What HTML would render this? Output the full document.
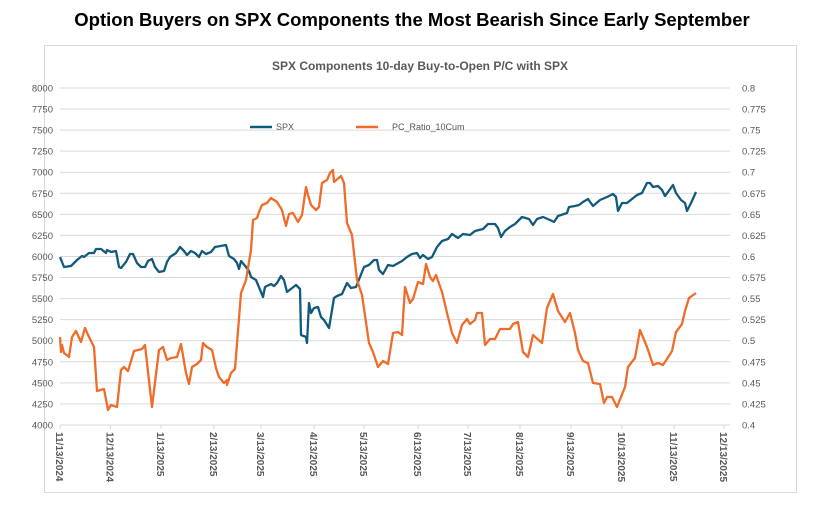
<!DOCTYPE html>
<html><head><meta charset="utf-8"><style>
body{margin:0;background:#fff;width:824px;height:513px;overflow:hidden;font-family:"Liberation Sans",sans-serif}
</style></head><body>
<svg width="824" height="513" xmlns="http://www.w3.org/2000/svg" font-family="Liberation Sans, sans-serif">
<text x="412" y="26" text-anchor="middle" font-size="18.5" font-weight="bold" fill="#000">Option Buyers on SPX Components the Most Bearish Since Early September</text>
<rect x="44.5" y="45.5" width="752" height="447" fill="#fff" stroke="#d9d9d9"/>
<text x="420" y="70" text-anchor="middle" font-size="12" font-weight="bold" fill="#595959">SPX Components 10-day Buy-to-Open P/C with SPX</text>
<g id="grid" stroke="#d9d9d9" stroke-width="1"></g>
<g id="yl" font-size="9.5" fill="#595959"></g>
<g id="xl" font-size="10" font-weight="bold" fill="#595959"></g>
<line x1="250" y1="127" x2="272" y2="127" stroke="#125a7c" stroke-width="2.5"/>
<text x="276" y="130" font-size="9" fill="#595959">SPX</text>
<line x1="356" y1="127" x2="378" y2="127" stroke="#ef6c2a" stroke-width="2.5"/>
<text x="392" y="130" font-size="9" fill="#595959">PC_Ratio_10Cum</text>
<polyline fill="none" stroke="#125a7c" stroke-width="2.3" stroke-linejoin="round" points="60,257 64,267 71,266 77,260 82,256 84,257 89,253 94,253 96,249 101,249 106,253 107,250 111,252 116,251 119,267 121,268 126,262 130,254 133,254 137,263 141,267 145,267 148,261 152,259 155,267 159,272 164,271 167,262 170,257 176,253 180,247 184,251 187,255 191,251 195,253 199,257 202,251 206,254 211,252 215,247 226,245 229,256 234,259 237,263 239,269 241,261 246,267 249,271 251,277 256,280 261,292 263,297 265,287 271,284 274,286 277,283 281,276 284,280 287,292 296,285 300,289 301,335 306,337 307,343 309,303 311,313 314,308 318,307 321,317 324,320 329,328 334,298 337,296 342,294 347,283 351,288 356,287 364,267 369,265 374,260 377,260 379,270 383,274 388,265 393,266 402,261 407,257 412,254 417,253 420,258 423,255 428,259 432,257 437,247 442,241 448,239 452,234 458,238 463,234 470,235 475,231 483,229 488,224 495,224 498,228 501,237 505,231 510,227 515,224 522,217 529,219 533,225 537,219 543,217 550,220 554,222 558,216 567,213 569,207 575,206 579,205 583,202 588,199 593,206 600,200 607,197 613,194 616,197 618,211 622,203 627,203 632,199 637,195 642,193 647,183 650,183 653,187 658,186 662,190 665,196 668,192 673,185 676,193 681,200 685,203 687,211 691,203 696,192"/>
<polyline fill="none" stroke="#ef6c2a" stroke-width="2.3" stroke-linejoin="round" points="60,337 61,352 62,345 64,353 69,357 72,337 76,331 81,342 85,328 89,337 94,347 97,391 104,389 108,410 111,405 117,407 121,370 124,367 128,371 134,351 142,349 145,345 152,407 159,350 163,347 167,360 171,358 177,357 181,344 186,373 189,384 192,367 197,364 201,360 203,343 207,347 212,350 216,368 219,377 224,383 227,380 227,385 231,373 235,369 241,293 246,280 251,250 253,220 257,218 259,212 262,205 267,203 271,198 277,202 282,210 286,226 289,214 293,213 298,222 302,215 306,187 308,195 311,205 316,210 319,207 322,183 327,180 330,173 333,170 334,182 341,176 344,183 347,223 352,235 357,280 362,295 369,343 373,352 378,367 383,361 388,364 393,333 398,332 402,335 405,287 410,303 413,299 418,282 423,284 426,264 430,277 433,281 436,275 442,292 447,313 452,333 457,343 462,325 467,319 470,324 475,320 477,313 482,313 485,345 490,339 495,339 500,329 510,329 513,324 518,322 523,352 528,357 533,335 542,343 547,308 553,294 558,311 565,322 570,313 575,333 578,350 583,361 588,363 593,383 600,384 604,403 607,397 612,397 617,407 625,387 628,367 635,358 640,330 647,347 653,365 658,363 663,365 667,359 672,351 676,332 682,324 685,311 689,298 696,293"/>
</svg>
<script>
var ns="http://www.w3.org/2000/svg";
var g=document.getElementById('grid'),yl=document.getElementById('yl'),xl=document.getElementById('xl');
for(var i=0;i<=16;i++){var y=88+i*21.06;
var l=document.createElementNS(ns,'line');l.setAttribute('x1',60);l.setAttribute('x2',730);l.setAttribute('y1',y);l.setAttribute('y2',y);g.appendChild(l);
var t=document.createElementNS(ns,'text');t.setAttribute('x',53);t.setAttribute('y',y+3.5);t.setAttribute('text-anchor','end');t.textContent=8000-250*i;yl.appendChild(t);
var r=document.createElementNS(ns,'text');r.setAttribute('x',742);r.setAttribute('y',y+3.5);var v=(0.8-0.025*i);r.textContent=(+v.toFixed(3)).toString();yl.appendChild(r);}
var dates=["11/13/2024","12/13/2024","1/13/2025","2/13/2025","3/13/2025","4/13/2025","5/13/2025","6/13/2025","7/13/2025","8/13/2025","9/13/2025","10/13/2025","11/13/2025","12/13/2025"];
var xs=[60,110.5,161,214,261,314,364,418,468,520,571,622,674,724];
for(var k=0;k<dates.length;k++){var t=document.createElementNS(ns,'text');t.setAttribute('transform','translate('+(xs[k]-4)+',432) rotate(90)');t.textContent=dates[k];xl.appendChild(t);
var tk=document.createElementNS(ns,'line');tk.setAttribute('x1',xs[k]);tk.setAttribute('x2',xs[k]);tk.setAttribute('y1',425);tk.setAttribute('y2',429);g.appendChild(tk);}
</script>
</body></html>
